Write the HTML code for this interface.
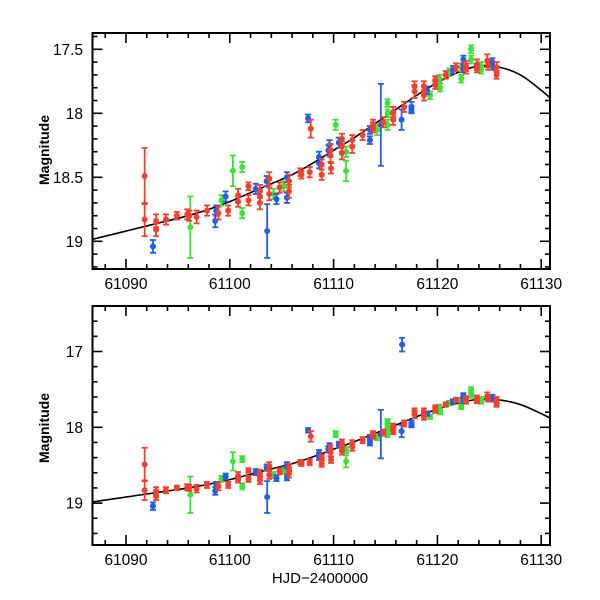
<!DOCTYPE html>
<html><head><meta charset="utf-8">
<style>
body{margin:0;background:#fff;}
svg{display:block;font-family:"Liberation Sans",sans-serif;}
</style></head>
<body>
<svg id="chart" width="600" height="600" viewBox="0 0 600 600" xmlns="http://www.w3.org/2000/svg">
<defs>
<clipPath id="clipTop"><rect x="92.5" y="33" width="457.5" height="236"/></clipPath>
<clipPath id="clipBot"><rect x="92.5" y="306" width="457.5" height="239"/></clipPath>
</defs>
<g id="top"></g>
<g id="bot"></g>
<text x="0" y="0" transform="translate(44,150) rotate(-90)" text-anchor="middle" dominant-baseline="central" font-size="14" font-weight="bold">Magnitude</text>
<text x="0" y="0" transform="translate(44,428) rotate(-90)" text-anchor="middle" dominant-baseline="central" font-size="14" font-weight="bold">Magnitude</text>
<text x="320" y="583" text-anchor="middle" font-size="15">HJD−2400000</text>
</svg>
<script>
const redDays=[61091.8,61091.8,61092.9,61092.9,61093.85,61094.9,61095.9,61096.1,61096.8,61097.8,61098.9,61099.85,61100.8,61100.8,61101.8,61101.8,61102.9,61102.9,61102.9,61103.8,61103.8,61104.8,61105.7,61105.7,61106.8,61106.9,61107.7,61107.8,61108.85,61108.85,61109.7,61109.7,61109.75,61110.8,61110.8,61110.8,61111.8,61111.8,61112.8,61113.8,61113.8,61114.8,61115.75,61115.75,61116.8,61117.8,61117.8,61118.7,61118.7,61119.8,61119.8,61120.8,61121.8,61122.75,61122.75,61123.8,61123.8,61124.8,61124.9,61125.7,61125.7];
const redMags=[18.49,18.83,18.84,18.91,18.83,18.80,18.79,18.80,18.81,18.76,18.78,18.76,18.64,18.69,18.57,18.68,18.61,18.65,18.70,18.51,18.63,18.58,18.53,18.61,18.46,18.48,18.46,18.12,18.48,18.40,18.29,18.33,18.43,18.20,18.26,18.31,18.21,18.26,18.17,18.09,18.11,18.07,17.99,18.05,17.95,17.83,17.79,17.79,17.86,17.74,17.78,17.70,17.64,17.63,17.65,17.62,17.65,17.59,17.62,17.64,17.70];
const redErrs=[0.22,0.13,0.05,0.05,0.04,0.03,0.04,0.04,0.05,0.04,0.05,0.04,0.05,0.04,0.03,0.04,0.05,0.05,0.05,0.05,0.05,0.04,0.05,0.05,0.03,0.03,0.04,0.07,0.04,0.04,0.05,0.05,0.04,0.04,0.04,0.05,0.04,0.05,0.04,0.04,0.04,0.04,0.04,0.04,0.04,0.05,0.04,0.04,0.04,0.03,0.03,0.03,0.03,0.04,0.04,0.04,0.03,0.05,0.04,0.04,0.03];
const blueDays=[61092.6,61098.6,61098.7,61099.6,61102.5,61103.55,61103.6,61104.5,61105.5,61105.5,61107.55,61108.6,61108.6,61109.5,61109.6,61110.5,61113.5,61113.5,61114.55,61116.55,61116.6,61117.5,61117.5,61119.0,61121.5,61122.5,61122.5,61125.3,61125.3];
const blueMags=[19.04,18.84,18.76,18.65,18.59,18.53,18.92,18.67,18.50,18.66,18.04,18.39,18.34,18.29,18.25,18.23,18.21,18.13,18.09,18.05,16.91,17.95,17.97,17.82,17.66,17.58,17.65,17.60,17.63];
const blueErrs=[0.05,0.05,0.04,0.04,0.04,0.04,0.21,0.04,0.04,0.04,0.03,0.04,0.04,0.04,0.04,0.04,0.03,0.03,0.32,0.08,0.09,0.04,0.03,0.03,0.03,0.03,0.03,0.03,0.03];
const greenDays=[61096.2,61099.2,61100.3,61101.2,61101.2,61104.2,61105.2,61110.2,61111.2,61111.2,61114.2,61115.2,61115.2,61115.2,61119.3,61120.2,61120.25,61121.1,61122.3,61122.3,61123.25,61123.25,61124.2,61124.2];
const greenMags=[18.89,18.68,18.45,18.42,18.78,18.63,18.57,18.09,18.45,18.30,18.13,18.09,18.00,17.92,17.86,17.73,17.80,17.68,17.73,17.64,17.50,17.58,17.63,17.66];
const greenErrs=[0.24,0.04,0.12,0.04,0.04,0.04,0.04,0.04,0.08,0.04,0.04,0.04,0.03,0.03,0.03,0.03,0.03,0.03,0.03,0.03,0.03,0.03,0.03,0.03];
const modelDays=[61086,61088,61090,61092,61094,61096,61098,61100,61102,61104,61106,61108,61110,61112,61114,61116,61118,61120,61122,61124,61126,61128,61130,61132];
const modelMags=[19.00,18.96,18.92,18.88,18.84,18.80,18.75,18.69,18.62,18.55,18.48,18.39,18.29,18.19,18.08,17.97,17.86,17.76,17.68,17.63,17.64,17.70,17.82,17.96];
const xTicks=[61090,61100,61110,61120,61130];
const yTicksTop=[17.5,18,18.5,19];
const yTicksBot=[17,18,19];

const NS="http://www.w3.org/2000/svg";
const X0=92.5,X1=550;
const xs=d=>126+(d-61090)*10.38;
const panels=[
 {g:document.getElementById('top'),clip:'clipTop',y0:33,y1:269,ys:m=>113.3+(m-18)*128,mmin:17.37,mmax:19.22,minor:0.1,yt:yTicksTop,lab:v=>v%1===0?String(v):v.toFixed(1),name:'top'},
 {g:document.getElementById('bot'),clip:'clipBot',y0:306,y1:545,ys:m=>427.3+(m-18)*75.8,mmin:16.4,mmax:19.55,minor:0.2,yt:yTicksBot,lab:v=>String(v),name:'bottom'}
];
function mk(tag,attrs,parent){const e=document.createElementNS(NS,tag);for(const k in attrs)e.setAttribute(k,attrs[k]);parent.appendChild(e);return e;}
panels.forEach(p=>{
 const g=p.g;
 const data=mk('g',{'clip-path':'url(#'+p.clip+')'},g);
 
 
 const pts=modelDays.map((d,i)=>[xs(d),p.ys(modelMags[i])]);
 let dstr='M'+pts[0][0]+','+pts[0][1];
 for(let i=0;i<pts.length-1;i++){const p0=pts[Math.max(0,i-1)],p1=pts[i],p2=pts[i+1],p3=pts[Math.min(pts.length-1,i+2)];
  dstr+=' C'+(p1[0]+(p2[0]-p0[0])/6)+','+(p1[1]+(p2[1]-p0[1])/6)+' '+(p2[0]-(p3[0]-p1[0])/6)+','+(p2[1]-(p3[1]-p1[1])/6)+' '+p2[0]+','+p2[1];}
 const curve=mk('path',{d:dstr,fill:'none',stroke:'#000','stroke-width':1.6},data);
 
 
 const series=[['green',greenDays,greenMags,greenErrs,'#3ee03a'],['blue',blueDays,blueMags,blueErrs,'#1f5ee8'],['red',redDays,redMags,redErrs,'#f2402e']];
 series.forEach(([nm,D,M,E,col])=>{
  const sg=mk('g',{},data);
  
  
  D.forEach((d,i)=>{
   const x=xs(d),y=p.ys(M[i]),yt=p.ys(M[i]-E[i]),yb=p.ys(M[i]+E[i]);
   const pt=mk('g',{stroke:col,'stroke-width':1.8,fill:col},sg);
   
   
   mk('line',{x1:x,x2:x,y1:yt,y2:yb},pt);
   mk('line',{x1:x-3,x2:x+3,y1:yt,y2:yt},pt);
   mk('line',{x1:x-3,x2:x+3,y1:yb,y2:yb},pt);
   mk('circle',{cx:x,cy:y,r:3,stroke:'none'},pt);
  });
 });
 const fr=mk('rect',{x:X0,y:p.y0,width:X1-X0,height:p.y1-p.y0,fill:'none',stroke:'#000','stroke-width':2},g);
 
 
 const ax=mk('g',{stroke:'#000','stroke-width':1.6},g);
 
 
 for(let d=61088;d<=61130;d+=2){const x=xs(d);const L=(d%10===0)?10:5;
  mk('line',{x1:x,x2:x,y1:p.y1,y2:p.y1-L},ax);mk('line',{x1:x,x2:x,y1:p.y0,y2:p.y0+L},ax);}
 const n0=Math.ceil(p.mmin/p.minor-1e-6),n1=Math.floor(p.mmax/p.minor+1e-6);
 for(let n=n0;n<=n1;n++){const m=n*p.minor;const y=p.ys(m);const maj=p.yt.some(v=>Math.abs(v-m)<1e-6);const L=maj?10:5;
  mk('line',{x1:X0,x2:X0+L,y1:y,y2:y},ax);mk('line',{x1:X1,x2:X1-L,y1:y,y2:y},ax);}
 xTicks.forEach(v=>{const t=mk('text',{x:xs(v),y:p.y1+20,'text-anchor':'middle','font-size':15.5,fill:'#000'},g);t.textContent=String(v);
  
  });
 p.yt.forEach(v=>{const t=mk('text',{x:83,y:p.ys(v)+5.5,'text-anchor':'end','font-size':15.5,fill:'#000'},g);t.textContent=p.lab(v);
  
  });
});
</script>
</body></html>
